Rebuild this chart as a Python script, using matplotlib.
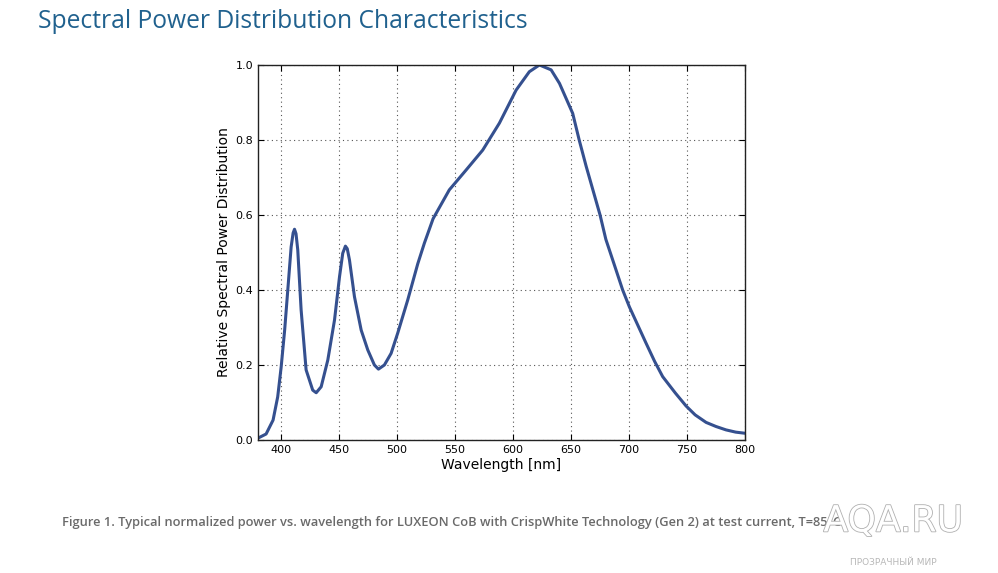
import matplotlib

matplotlib.use("Agg")
import matplotlib.pyplot as plt
import matplotlib.patheffects as pe

# Relative SPD (wavelength in nm)
WAVELENGTH = [
    380, 387, 393, 397, 400, 403, 405.7, 408.6, 410.3, 411.5, 412.8, 414.3,
    417.2, 421.5, 427.2, 430.2, 434.5, 440.2, 446, 450.3, 453.1, 455.4,
    457.0, 458.9, 463.2, 469, 474.7, 480.4, 483.9, 489, 494.8, 500.5, 509.1,
    517.8, 523.5, 531, 545, 559.5, 573.8, 588.2, 602.6, 614, 622.7, 632.8,
    640, 651.4, 657, 663, 675, 680, 687, 694.5, 700.3, 714.7, 722, 729, 740,
    749.1, 757, 766.4, 775, 783.6, 792, 800,
]
RELATIVE_SPD = [
    0.005, 0.016, 0.053, 0.115, 0.195, 0.293, 0.40, 0.515, 0.552, 0.562,
    0.550, 0.507, 0.347, 0.187, 0.133, 0.126, 0.142, 0.213, 0.32, 0.435,
    0.498, 0.517, 0.510, 0.48, 0.382, 0.293, 0.24, 0.20, 0.189, 0.20, 0.231,
    0.285, 0.373, 0.47, 0.525, 0.59, 0.667, 0.72, 0.773, 0.845, 0.933, 0.982,
    1.0, 0.987, 0.951, 0.871, 0.80, 0.73, 0.60, 0.535, 0.47, 0.40, 0.355,
    0.258, 0.21, 0.169, 0.125, 0.091, 0.067, 0.047, 0.036, 0.027, 0.021,
    0.018,
]
X_TICKS = [400, 450, 500, 550, 600, 650, 700, 750, 800]
Y_TICKS = [0.0, 0.2, 0.4, 0.6, 0.8, 1.0]

TITLE = "Spectral Power Distribution Characteristics"
CAPTION = ("Figure 1. Typical normalized power vs. wavelength for LUXEON CoB "
           "with CrispWhite Technology (Gen 2) at test current, T=85°C")

fig = plt.figure(figsize=(9.98, 5.73), dpi=100)
ax = fig.add_axes([0.2585, 0.2321, 0.488, 0.6545])

ax.plot(WAVELENGTH, RELATIVE_SPD, color="#35508f", linewidth=2.2,
        solid_joinstyle="round")
ax.set_xlim(380, 800)
ax.set_ylim(0, 1.0)
ax.set_xticks(X_TICKS)
ax.set_yticks(Y_TICKS)
ax.set_yticklabels([f"{v:.1f}" for v in Y_TICKS])
ax.grid(True, linestyle=(0, (1, 3)), color="#555555", linewidth=0.8)
ax.tick_params(direction="in", top=True, right=True, labelsize=8, length=4)
for spine in ax.spines.values():
    spine.set_color("#222222")
    spine.set_linewidth(1.0)
ax.set_xlabel("Wavelength [nm]", fontsize=10, labelpad=2)
ax.set_ylabel("Relative Spectral Power Distribution", fontsize=10, labelpad=3)

fig.text(0.038, 0.962, TITLE, fontsize=17.7, color="#20618e",
         family="Open Sans", va="center", ha="left")
fig.text(0.062, 0.088, CAPTION, fontsize=9.3, color="#6a6a6a",
         family="Open Sans", weight="semibold", va="center", ha="left")

# watermark in the lower right corner
fig.text(0.895, 0.09, "AQA.RU", fontsize=26, color="white", family="DejaVu Sans",
         ha="center", va="center",
         path_effects=[pe.withStroke(linewidth=1.2, foreground="#b0b0b0")])
fig.text(0.895, 0.018, "ПРОЗРАЧНЫЙ МИР", fontsize=6.5, color="#b8b8b8",
         family="DejaVu Sans", ha="center", va="center")

fig.savefig("out.png", dpi=100)
